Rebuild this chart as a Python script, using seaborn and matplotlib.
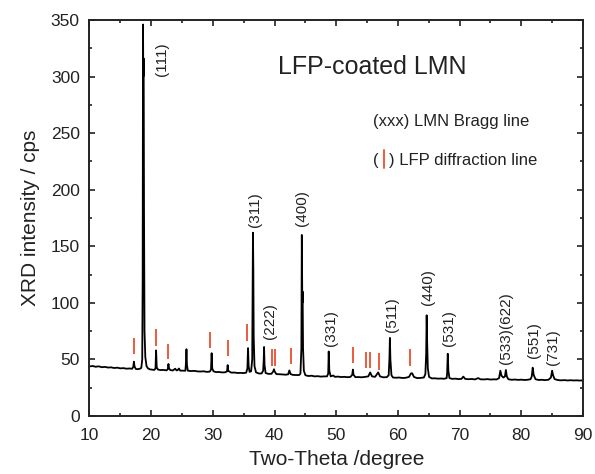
import seaborn as sns
import matplotlib.pyplot as plt
from matplotlib.ticker import MultipleLocator

# XRD profile (two-theta in degree, intensity in cps)
two_theta = [
    10.0, 10.5, 11.0, 11.5, 12.0, 12.5, 13.0, 13.5, 14.0, 14.5, 15.0, 15.5, 16.0, 16.5, 16.9,
    17.1, 17.2, 17.3, 17.5, 17.8, 18.1, 18.4,
    18.55, 18.62, 18.68, 18.72, 18.78, 18.84, 18.92, 19.05, 19.25, 19.5,
    19.8, 20.2, 20.5, 20.7, 20.8, 20.9, 21.1, 21.5, 22.0, 22.5, 22.7, 22.8, 22.9, 23.1,
    23.5, 23.9, 24.1, 24.3, 24.5, 24.7, 25.2, 25.55, 25.65, 25.72, 25.8, 25.95,
    26.5, 27.0, 27.5, 28.0, 28.5, 29.0, 29.5, 29.7, 29.8, 29.9, 30.1,
    30.5, 31.0, 31.5, 32.0, 32.3, 32.4, 32.5, 33.0, 33.5, 34.0, 34.5, 35.0, 35.4, 35.6, 35.7, 35.8, 35.95,
    36.2, 36.38, 36.45, 36.5, 36.56, 36.62, 36.75, 37.0, 37.5, 37.9, 38.15, 38.25, 38.3, 38.38, 38.55,
    39.0, 39.5, 39.8, 39.9, 40.0, 40.3, 40.8, 41.3, 41.8, 42.2, 42.4, 42.6, 43.0, 43.5, 44.0,
    44.2, 44.35, 44.42, 44.5, 44.55, 44.62, 44.75, 45.0,
    45.5, 46.0, 46.5, 47.0, 47.5, 48.0, 48.5, 48.7, 48.78, 48.88, 49.1,
    49.5, 49.8, 50.3, 50.8, 51.3, 51.8, 52.3, 52.6, 52.7, 52.8, 53.1, 53.6, 54.1, 54.6, 55.2, 55.5,
    55.8, 56.3, 56.8, 57.1, 57.6, 58.2,
    58.5, 58.62, 58.7, 58.78, 58.95, 59.2,
    59.7, 60.2, 60.7, 61.2, 61.8, 62.1, 62.3, 62.6, 63.1, 63.6, 64.2,
    64.45, 64.58, 64.66, 64.74, 64.85, 65.05,
    65.5, 66.0, 66.5, 67.0, 67.5, 67.9, 67.98, 68.08, 68.18, 68.35,
    68.8, 69.3, 69.8, 70.3, 70.6, 70.9, 71.4, 72.0, 72.5, 73.0, 73.4, 74.0, 74.5, 75.0, 75.5, 76.0,
    76.4, 76.6, 76.8, 77.1, 77.35, 77.5, 77.65, 77.9,
    78.4, 79.0, 79.5, 80.0, 80.5, 81.0, 81.5, 81.7, 81.85, 82.0, 82.3, 82.8, 83.3, 83.8, 84.4,
    84.8, 85.0, 85.15, 85.4,
    85.9, 86.4, 87.0, 87.5, 88.0, 88.5, 89.0, 89.5, 90.0,
]
intensity = [
    43.8, 44.2, 43.5, 43.9, 43.1, 43.4, 42.8, 43.0, 42.4, 42.7, 42.1, 42.3, 41.8, 42.0, 41.7,
    43.5, 48.0, 43.8, 41.6, 41.4, 41.6, 42.5,
    50.0, 120.0, 346.0, 300.0, 316.0, 180.0, 75.0, 52.0, 44.0, 42.0,
    41.2, 40.9, 40.7, 42.0, 58.0, 43.0, 41.0, 40.6, 40.7, 40.3, 41.5, 46.0, 42.0, 40.6,
    40.2, 41.8, 40.3, 40.5, 42.0, 40.1, 40.0, 40.0, 48.0, 59.0, 45.0, 40.0,
    39.7, 39.9, 39.4, 39.3, 39.5, 39.0, 39.2, 41.0, 55.5, 42.0, 39.5,
    38.8, 38.9, 38.5, 38.6, 39.5, 45.0, 39.8, 38.3, 38.4, 38.0, 38.1, 37.9, 38.3, 42.0, 60.0, 44.0, 39.0,
    39.5, 50.0, 120.0, 162.0, 130.0, 70.0, 44.0, 38.5, 37.5, 37.6, 40.0, 50.0, 61.0, 45.0, 38.0,
    37.2, 37.3, 39.5, 41.3, 39.5, 37.0, 36.9, 36.7, 36.5, 36.8, 40.3, 37.0, 36.3, 36.2, 36.2,
    37.5, 60.0, 160.0, 100.0, 110.0, 60.0, 40.0, 36.0,
    35.3, 35.6, 35.0, 35.2, 34.8, 35.0, 35.0, 37.5, 57.0, 40.0, 35.0,
    35.8, 34.6, 34.8, 34.4, 34.6, 34.3, 34.5, 36.5, 41.0, 36.5, 34.3, 34.4, 34.2, 34.5, 35.0, 38.5,
    35.0, 34.6, 38.5, 35.0, 34.2, 34.3,
    36.0, 50.0, 69.0, 50.0, 36.0, 34.0,
    33.8, 34.0, 33.6, 33.7, 34.5, 37.5, 37.8, 34.5, 33.5, 33.6, 34.0,
    37.0, 55.0, 89.0, 65.0, 42.0, 34.5,
    33.2, 33.3, 33.0, 33.1, 32.9, 33.5, 38.0, 55.0, 40.0, 33.5,
    32.8, 33.0, 32.6, 32.8, 34.8, 32.8, 32.5, 32.7, 32.3, 33.5, 32.4, 32.3, 32.6, 32.2, 32.4, 32.3,
    33.5, 40.0, 35.5, 34.0, 35.0, 40.7, 35.0, 32.5,
    32.0, 32.2, 31.9, 32.1, 31.8, 32.0, 32.5, 35.0, 42.7, 36.5, 32.5, 31.8, 32.0, 31.7, 32.0,
    34.0, 40.0, 36.0, 32.6,
    31.8, 31.5, 31.7, 31.4, 31.6, 31.4, 31.5, 31.3, 31.5,
]

# LFP diffraction marks (position, top, bottom)
lfp_theta = [17.2, 20.8, 22.7, 29.5, 32.5, 35.6, 39.6, 40.0, 42.6, 52.7, 54.9, 55.5, 57.0, 61.9]
lfp_top = [69, 77, 64, 74, 67, 81, 59, 59, 60, 61, 56.5, 56.5, 55.5, 59]
lfp_bottom = [55, 62, 50, 60, 53, 66, 44, 44, 46, 46.5, 42, 42, 41, 44.5]

# LMN Bragg line labels
hkl_labels = ['(111)', '(311)', '(222)', '(400)', '(331)', '(511)', '(440)', '(531)',
              '(533)(622)', '(551)', '(731)']
hkl_theta = [21.7, 36.9, 39.2, 44.45, 49.15, 59.05, 64.9, 68.25, 77.5, 82.05, 85.2]
hkl_y = [315, 182, 84, 184, 78, 90, 114, 78, 78, 67, 61]

red = '#f05a3c'
ink = '#222222'

sns.set_style('ticks')
plt.rcParams['font.family'] = ['Liberation Sans', 'DejaVu Sans']

fig = plt.figure(figsize=(5.95, 4.74), dpi=100)
ax = fig.add_axes([0.1504, 0.1224, 0.8294, 0.8354])

sns.lineplot(x=two_theta, y=intensity, ax=ax, color='black', lw=1.3,
             sort=False, estimator=None)
ax.vlines(lfp_theta, lfp_bottom, lfp_top, color=red, lw=1.4)

for lab, x, y in zip(hkl_labels, hkl_theta, hkl_y):
    ax.text(x, y, lab, rotation=90, ha='center', va='center', fontsize=11, color=ink)

ax.text(0.572, 0.882, 'LFP-coated LMN', transform=ax.transAxes, ha='center', va='center',
        fontsize=18, color=ink)
ax.text(0.575, 0.743, '(xxx) LMN Bragg line', transform=ax.transAxes, ha='left', va='center',
        fontsize=12, color=ink)
ax.text(0.575, 0.645, '(', transform=ax.transAxes, ha='left', va='center',
        fontsize=12, color=ink)
ax.plot([0.597, 0.597], [0.625, 0.672], transform=ax.transAxes, color=red, lw=1.4)
ax.text(0.6075, 0.645, ') LFP diffraction line', transform=ax.transAxes, ha='left', va='center',
        fontsize=12, color=ink)

ax.set_xlim(10, 90)
ax.set_ylim(0, 350)
ax.xaxis.set_major_locator(MultipleLocator(10))
ax.xaxis.set_minor_locator(MultipleLocator(5))
ax.yaxis.set_major_locator(MultipleLocator(50))
ax.yaxis.set_minor_locator(MultipleLocator(25))
ax.tick_params(which='both', direction='in', top=True, right=True, width=1.2,
               labelsize=12.5, colors=ink)
ax.tick_params(which='major', length=4.5)
ax.tick_params(which='minor', length=2.5)
ax.tick_params(axis='x', which='major', pad=9)
ax.tick_params(axis='y', which='major', pad=7)
for sp in ax.spines.values():
    sp.set_linewidth(1.4)
    sp.set_color(ink)

ax.set_xlabel('Two-Theta /degree', fontsize=15, color=ink, labelpad=5)
ax.set_ylabel('XRD intensity / cps', fontsize=15, color=ink, labelpad=8)

fig.savefig('out.png', dpi=100)
